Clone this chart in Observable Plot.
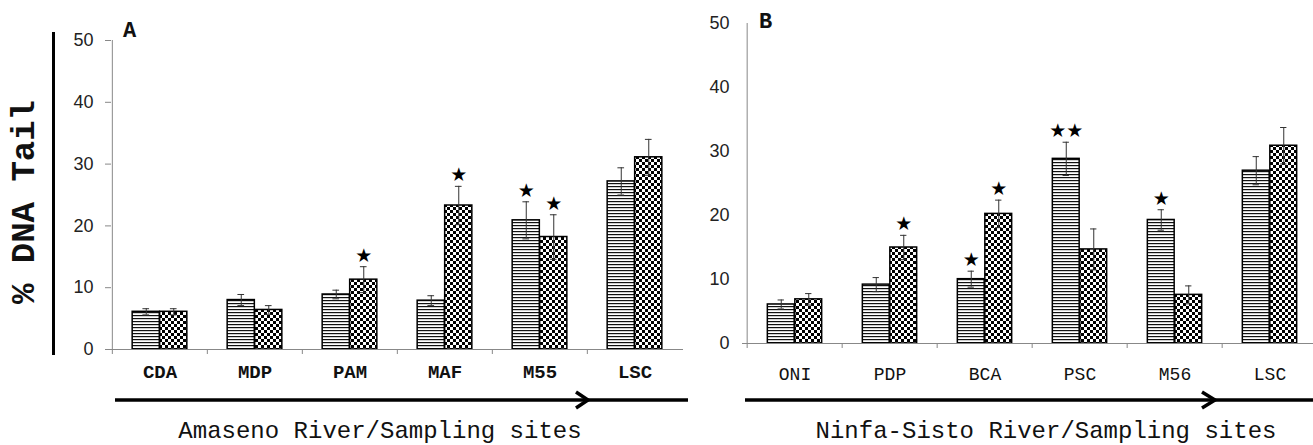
<!DOCTYPE html>
<html><head><meta charset="utf-8">
<script src="https://cdn.jsdelivr.net/npm/d3@7"></script>
<script src="https://cdn.jsdelivr.net/npm/@observablehq/plot@0.6"></script>
<style>
html,body{margin:0;padding:0;background:#fff;}
#wrap{position:relative;width:1313px;height:445px;overflow:hidden;background:#fff;}
#wrap svg{position:absolute;top:0;}
</style></head><body><div id="wrap"></div>
<script>
// ---- Panel A: Amaseno River ----
const sitesA = ["CDA","MDP","PAM","MAF","M55","LSC"];
const stripesA = [6.1, 8.0, 8.9, 7.9, 20.9, 27.2];
const stripesErrA = [0.5, 0.9, 0.7, 0.8, 3.0, 2.2];
const checksA = [6.1, 6.4, 11.3, 23.3, 18.2, 31.1];
const checksErrA = [0.5, 0.7, 2.1, 3.1, 3.6, 2.9];
const starsStripesA = ["", "", "", "", "★", ""];
const starsChecksA = ["", "", "★", "★", "★", ""];

// ---- Panel B: Ninfa-Sisto River ----
const sitesB = ["ONI","PDP","BCA","PSC","M56","LSC"];
const stripesB = [6.1, 9.2, 10.05, 28.85, 19.3, 27.0];
const stripesErrB = [0.7, 1.1, 1.25, 2.6, 1.6, 2.2];
const checksB = [6.9, 15.0, 20.25, 14.7, 7.6, 30.9];
const checksErrB = [0.9, 1.9, 2.15, 3.2, 1.4, 2.85];
const starsStripesB = ["", "", "★", "★★", "★", ""];
const starsChecksB = ["", "★", "★", "", "", ""];

const yTicks = [0, 10, 20, 30, 40, 50];
const yLabel = "% DNA Tail";
const panelLetters = ["A", "B"];
const xTitles = ["Amaseno River/Sampling sites", "Ninfa-Sisto River/Sampling sites"];

const wrap = document.getElementById("wrap");
const NS = "http://www.w3.org/2000/svg";

// pattern definitions
const defsSvg = document.createElementNS(NS, "svg");
defsSvg.setAttribute("width", 0); defsSvg.setAttribute("height", 0);
defsSvg.innerHTML = `<defs>
 <pattern id="stripes" patternUnits="userSpaceOnUse" width="4" height="3">
  <rect width="4" height="3" fill="#fff"/><rect width="4" height="1.2" fill="#111"/>
 </pattern>
 <pattern id="checks" patternUnits="userSpaceOnUse" width="6" height="6">
  <rect width="6" height="6" fill="#fff"/><rect width="3" height="3" fill="#000"/><rect x="3" y="3" width="3" height="3" fill="#000"/>
 </pattern></defs>`;
wrap.appendChild(defsSvg);

function panel(o) {
  const rows1 = o.sites.map((s, i) => ({site: s, value: o.s1[i], err: o.e1[i], star: o.st1[i]}));
  const rows2 = o.sites.map((s, i) => ({site: s, value: o.s2[i], err: o.e2[i], star: o.st2[i]}));
  const step = (o.width - o.marginLeft - o.marginRight) / o.sites.length;
  const barW = o.barW, capW = 7;
  const inL = (step - 2 * barW) / 2;
  const c1 = inL + barW / 2, c2 = inL + 1.5 * barW;
  const series = (rows, fill, left, center) => [
    Plot.barY(rows, {x: "site", y: "value", fill, stroke: "#000", strokeWidth: 1.5,
      insetLeft: left, insetRight: step - left - barW}),
    Plot.ruleX(rows, {x: "site", y1: d => d.value - d.err, y2: d => d.value + d.err,
      dx: center - step / 2, stroke: "#333", strokeWidth: 1}),
    Plot.tickY(rows, {x: "site", y: d => d.value + d.err, stroke: "#333", strokeWidth: 1,
      insetLeft: center - capW / 2, insetRight: step - center - capW / 2}),
    Plot.tickY(rows, {x: "site", y: d => d.value - d.err, stroke: "#333", strokeWidth: 1,
      insetLeft: center - capW / 2, insetRight: step - center - capW / 2}),
    Plot.text(rows.filter(d => d.star), {x: "site", y: d => d.value + d.err, text: "star",
      dx: center - step / 2, dy: -11, fontSize: 19, fill: "#000", lineAnchor: "middle",
      fontFamily: "DejaVu Sans"})
  ];
  const svg = Plot.plot({
    width: o.width, height: o.height,
    marginLeft: o.marginLeft, marginRight: o.marginRight,
    marginTop: o.marginTop, marginBottom: o.marginBottom,
    style: {background: "transparent", color: "#222", fontFamily: "Liberation Sans", overflow: "visible"},
    x: {type: "band", domain: o.sites, padding: 0},
    y: {domain: [0, 50]},
    marks: [
      Plot.axisY({ticks: yTicks, tickSize: o.tickSizeY, tickPadding: o.tickPadY, fontSize: 18,
        stroke: "#888", fill: "#222", label: null}),
      Plot.axisX({tickSize: 5, tickFormat: () => "", dx: -step / 2, stroke: "#888", label: null}),
      Plot.axisX({tickSize: 0, tickPadding: o.labelPad, fontSize: o.labelSize, fontWeight: o.labelWeight,
        fontFamily: "Liberation Mono", fill: "#111", label: null}),
      ...series(rows1, "url(#stripes)", inL, c1),
      ...series(rows2, "url(#checks)", inL + barW, c2),
      Plot.ruleY([0], {stroke: "#888", insetLeft: o.axisExt}),
      Plot.ruleX([o.sites[0]], {dx: -step / 2, stroke: "#888"})
    ]
  });
  svg.style.left = o.left + "px";
  wrap.appendChild(svg);
}

panel({sites: sitesA, s1: stripesA, e1: stripesErrA, st1: starsStripesA,
  s2: checksA, e2: checksErrA, st2: starsChecksA,
  left: 0, width: 700, height: 384, marginLeft: 111, marginRight: 17, marginTop: 40, marginBottom: 35,
  barW: 27.5, tickSizeY: 6, tickPadY: 12, labelPad: 15, labelSize: 19, labelWeight: "bold", axisExt: 0});

panel({sites: sitesB, s1: stripesB, e1: stripesErrB, st1: starsStripesB,
  s2: checksB, e2: checksErrB, st2: starsChecksB,
  left: 700, width: 625, height: 378, marginLeft: 45, marginRight: 6, marginTop: 23, marginBottom: 35,
  barW: 27.5, tickSizeY: 0, tickPadY: 16, labelPad: 24, labelSize: 18, labelWeight: "normal", axisExt: -3});

// overlay: y-axis title, bar, panel letters, arrows, x titles
const ov = document.createElementNS(NS, "svg");
ov.setAttribute("width", 1313); ov.setAttribute("height", 445);
ov.style.left = "0px"; ov.style.pointerEvents = "none";
ov.innerHTML = `
 <line x1="53.5" y1="32" x2="53.5" y2="355" stroke="#000" stroke-width="3"/>
 <text transform="translate(25,202) rotate(-90)" text-anchor="middle" dominant-baseline="central"
   font-family="Liberation Mono" font-weight="bold" font-size="34" fill="#111">${yLabel}</text>
 <text x="123" y="37" font-family="Liberation Mono" font-weight="bold" font-size="22" fill="#111">${panelLetters[0]}</text>
 <text x="759" y="28" font-family="Liberation Mono" font-weight="bold" font-size="22" fill="#111">${panelLetters[1]}</text>
 <line x1="115" y1="400" x2="688" y2="400" stroke="#000" stroke-width="3.5"/>
 <polyline points="576,392 588,400 576,408" fill="none" stroke="#000" stroke-width="3.5"/>
 <line x1="745" y1="400" x2="1313" y2="400" stroke="#000" stroke-width="3.5"/>
 <polyline points="1202,392 1215,400 1202,408" fill="none" stroke="#000" stroke-width="3.5"/>
 <text x="380" y="438" text-anchor="middle" font-family="Liberation Mono" font-size="24" fill="#111">${xTitles[0]}</text>
 <text x="1046" y="438" text-anchor="middle" font-family="Liberation Mono" font-size="24" fill="#111">${xTitles[1]}</text>`;
wrap.appendChild(ov);
</script></body></html>
